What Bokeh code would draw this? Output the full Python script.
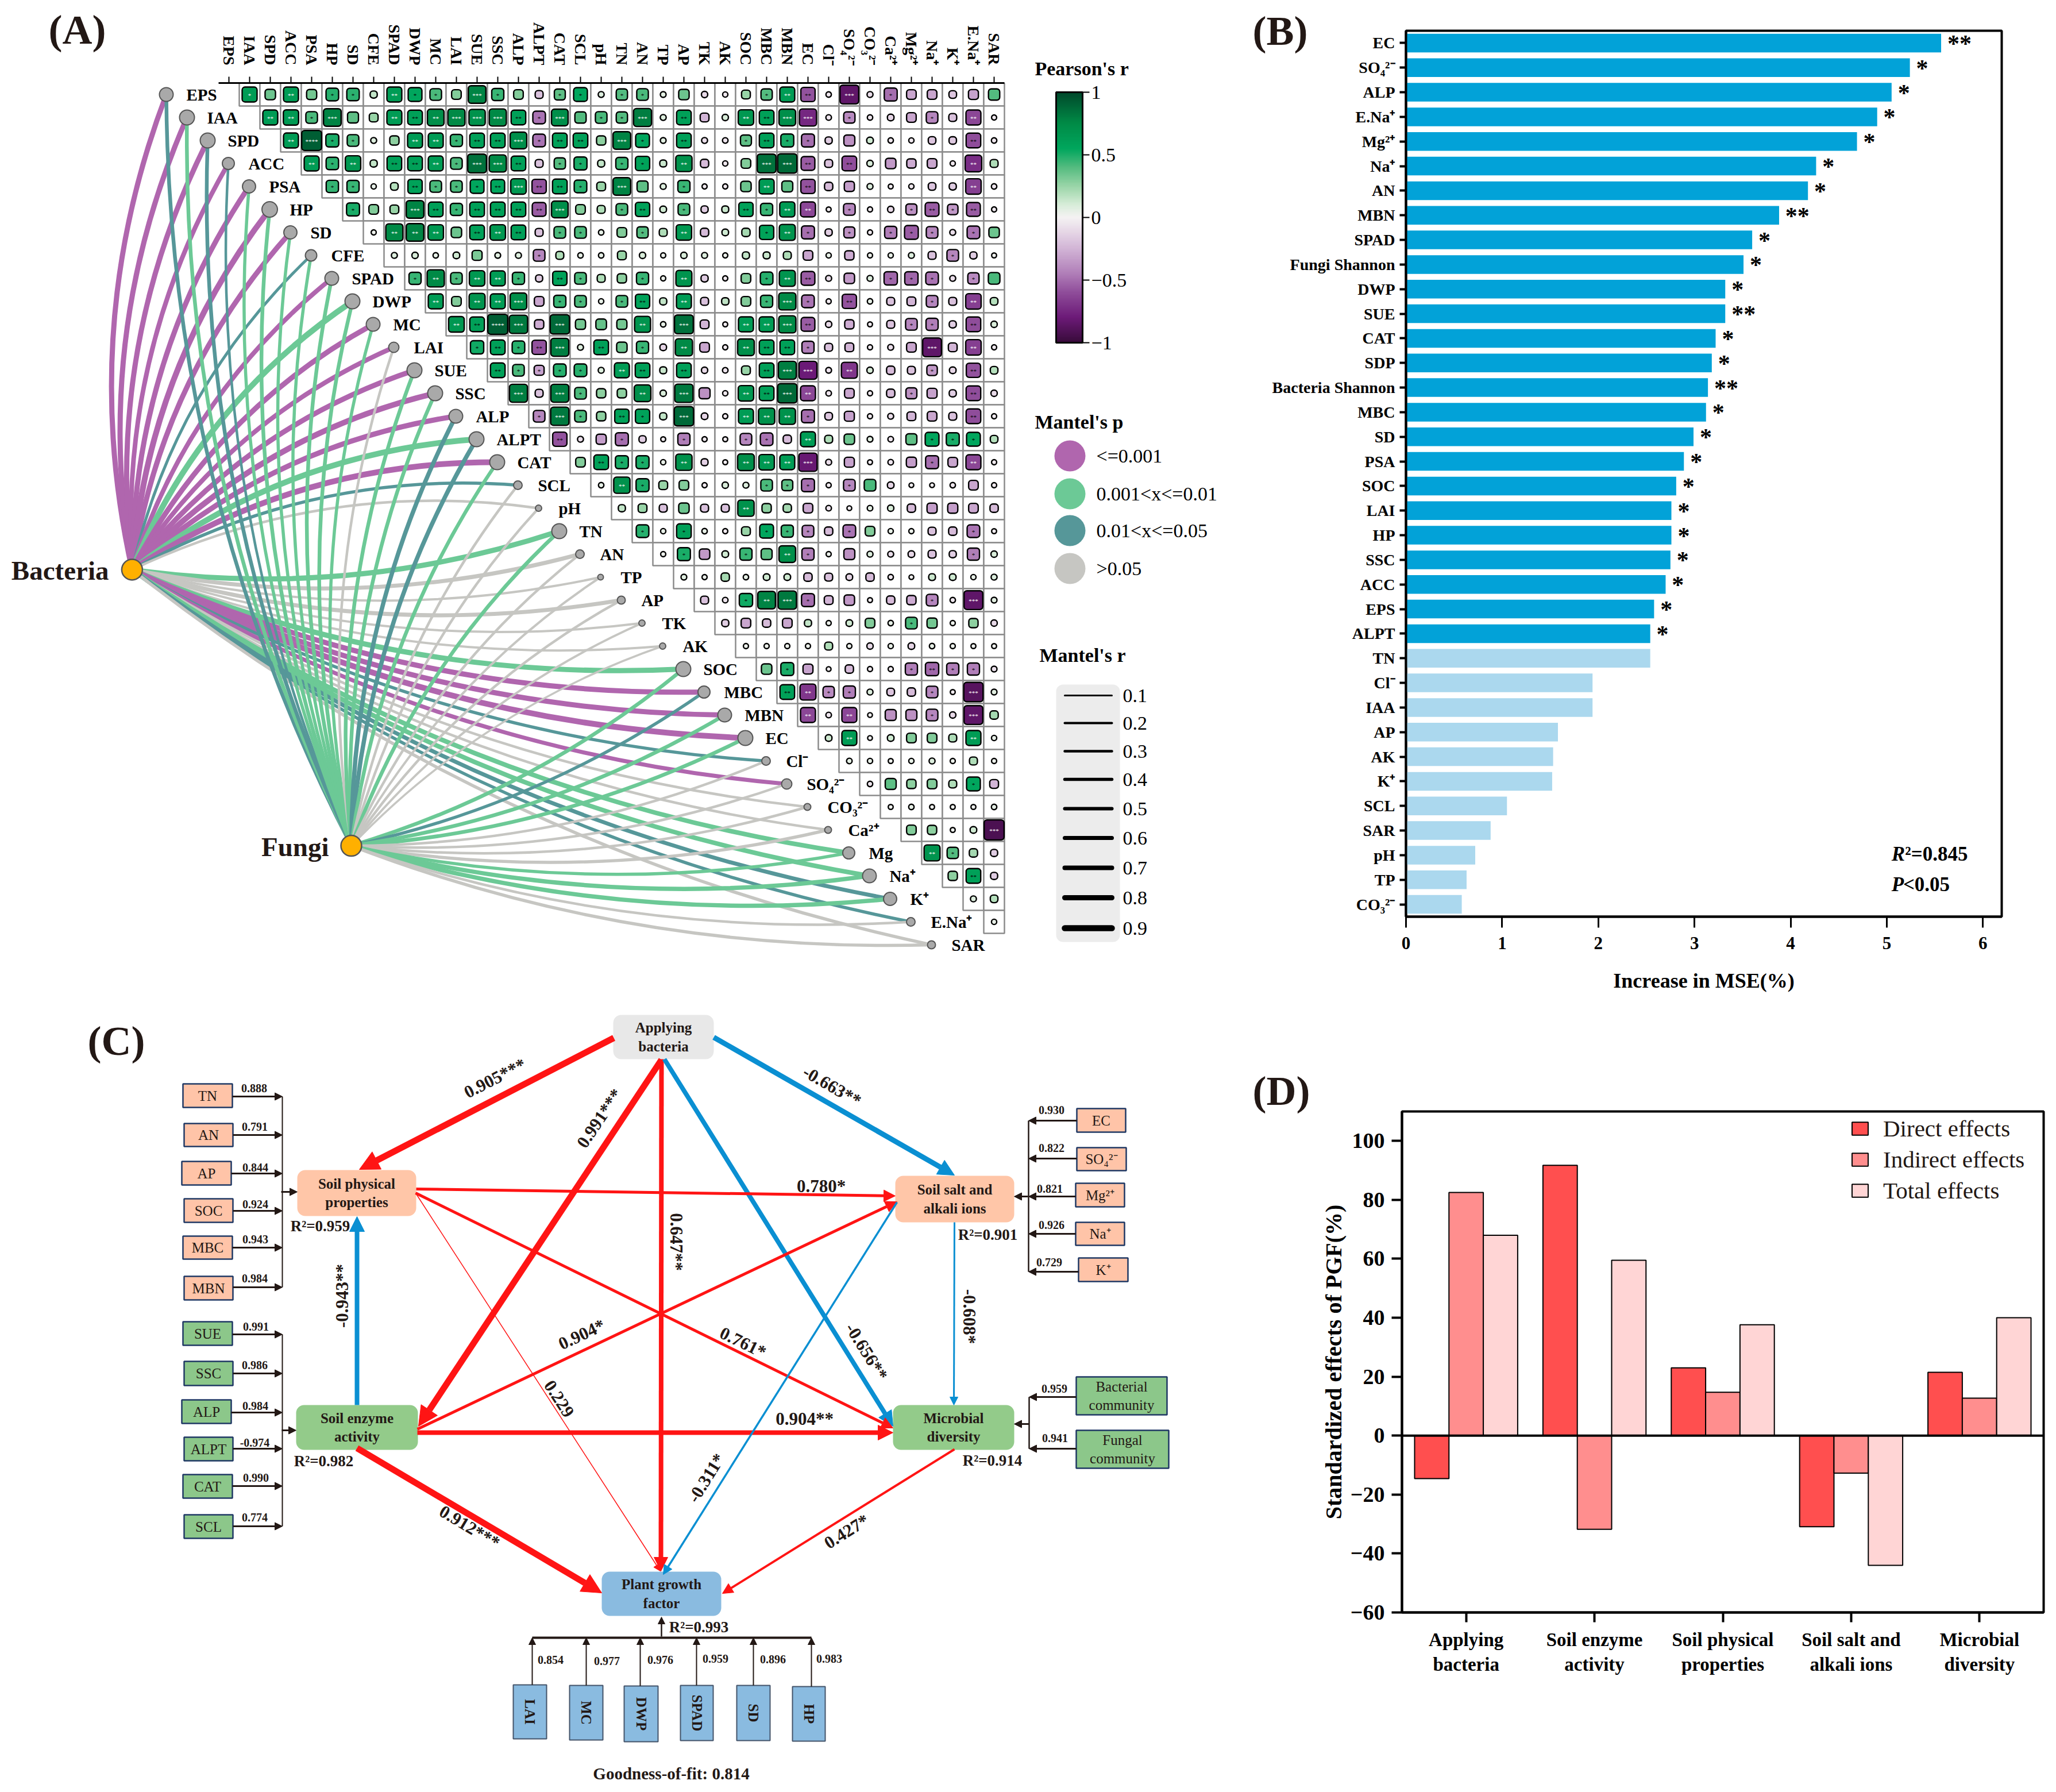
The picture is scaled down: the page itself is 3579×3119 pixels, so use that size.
import math
from bokeh.plotting import figure
from bokeh.layouts import row, column
from bokeh.embed import file_html
from bokeh.resources import INLINE
from bokeh.core.properties import value
from bokeh.models import (Range1d, FactorRange, LinearAxis, FixedTicker, Title, ColorBar,
                          LinearColorMapper, Arrow, NormalHead, Legend, LegendItem, Span, ColumnDataSource)

SERIF = "Liberation Serif"
INK = "#231815"

# ---------------- panel A data ----------------
variables = ["EPS","IAA","SPD","ACC","PSA","HP","SD","CFE","SPAD","DWP","MC","LAI","SUE","SSC","ALP","ALPT","CAT","SCL",
             "pH","TN","AN","TP","AP","TK","AK","SOC","MBC","MBN","EC","Cl⁻","SO₄²⁻","CO₃²⁻","Ca²⁺","Mg²⁺","Na⁺","K⁺","E.Na⁺","SAR"]
row_names = variables[:33] + ["Mg"] + variables[34:]
# Pearson r x100 with significance stars, upper triangle, row by row
pearson_rows = [
"62* 35 62** 33 48* 47* 15 62** 55* 42* 30 78*** 45* 30 -20 38* 55* 8 40* 42* 7 35 -10 -4 25 40* 62** -58** -5 -85*** -8 -50* -30 -30 -18 -32 40",
"62** 64** 42* 78*** 38 25 62** 60** 72** 75*** 70*** 75*** 60** -48* 72*** 40 42* 40* 80*** 8 60** -25 10 65** 60** 72*** -75*** -6 -40* -5 -12 -30 -42* -20 -62** -3",
"62** 92**** 50* 42* 8 28 62** 62** 45* 60** 60** 72*** -48* 60** 60** 28 78*** 55* 7 60** -8 -6 38* 60** 50* -50* -15 -38 12 -5 -4 -18 -17 -60** -5",
"62** 47* 65** 15 60** 60** 62** 42* 85*** 75*** 60** -20 40* 50* 15 45* 58* 14 70** -22 -4 30 85*** 88*** -55** -20 -60** 10 -35 -28 -30 -4 -72** 20",
"46* 45* 4 18 58** 42* 42* 55* 55** 65*** -58** 60** 48* 25 78*** 38 8 45* -3 -3 35 62** 38 -58** -22 -33 8 -2 -4 -18 -15 -65** -5",
"50* 30 25 78*** 60** 45* 60** 60** 60** -55** 72*** 30 20 42* 58** 12 42* -15 14 58** 45* 63** -62** -2 -42* -3 -10 -38* -55** -35* -55** -3",
"3 75** 78** 65** 35 60** 65** 60** -20 42* 42* 5 30 40* 20 65** -22 12 22 58* 68** -50* -15 -38* -3 -45* -55* -42* -8 -48* 35",
"8 10 5 12 32 7 8 -42* 20 5 5 25 10 3 10 8 3 15 14 20 -30 4 -28 3 4 8 -20 -42* -15 2",
"45* 75** 42* 65** 62** 45* -15 58** 42* 20 28 45* 3 68** -15 -3 30 48* 68** -55** -8 -35 8 -52* -52* -48* -8 -40* 42",
"62** 30 68** 62** 72*** -30 45* 42* 4 42* 58** 15 62** -20 16 30 45* 75*** -48* -3 -58** 5 -20 -25 -42* -20 -65** 18",
"66** 60** 92**** 82*** -28 88*** 33 36 33 68** 5 85*** -25 -2 62** 62** 75*** -55** -10 -28 -2 -20 -42* -45* -15 -60** 10",
"52* 60** 48* -58** 80*** 8 60** 35 45* -12 75** -30 -3 72** 60** 60** -45* -20 -25 -3 -8 -30 -85*** -25 -65** -3",
"60** 42* -32* 48* 48* 8 62** 60** 14 60** -10 -6 25 60** 80*** -80*** -7 -68** 10 -22 -20 -35* -12 -58** 18",
"80*** -20 80*** 42* 28 28 72** 10 82*** -38 -4 65** 60** 88*** -62** -6 -30 -3 -22 -38* -32 -15 -60** -10",
"-42* 82*** 42* 28 58** 58* 15 88*** -12 -3 62** 70** 70** -50* -18 -32 -3 -8 -25 -30 -20 -60** -3",
"-58** -8 -33 -50* -15 -2 -45* -3 -2 -42* -48* -22 62** 20 35 7 -6 38 55* 50* 55* 18",
"30 60** 50* 50* 4 70** -14 -2 72** 65** 62** -82*** -8 -32 -2 -6 -33 -50* -30 -62** -3",
"5 70** 50* 25 30 -3 10 8 42* 38* -50* -3 -42* 42 -12 -1 -1 -5 -30 -3",
"15 25 -20 35 -20 -20 70** 28 22 -30 -6 -1 6 10 -22 -33 -33 -30 -22",
"48* 4 60* 5 -3 25 55* 45* -42* -22 -48* 30 4 3 -20 -22 -48* -2",
"3 50* -35 12 45* 38 72** -45* 3 -38 8 -8 -12 -20 -15 -45* 10",
"7 3 22 5 12 12 -22 -20 -12 -22 -5 1 13 12 4 8",
"-20 -6 52* 78** 82*** -50* -25 -35 -2 -22 -28 -42* -5 -85*** 7",
"-15 -30 -22 -30 15 3 12 30 5 42* 33 3 28 -10",
"3 3 3 3 20 3 -10 4 -12 5 3 2 2",
"35 50* -32 -1 -22 -3 -3 -45* -52** -45* -45* -7",
"60** -68** -40* -45* 8 -18 -22 -42* -2 -88*** 7",
"-62** -6 -62** 1 -38 -38 -42* -10 -85*** 22",
"12 62** 1 12 30 30 20 62** 4",
"6 4 2 4 8 3 20 3",
"-5 38 28 30 20 55* -25",
"2 5 2 2 2 5",
"30 28 2 12 -92***",
"68** 40* 22 -15",
"28 60** -15",
"8 18",
"4",
]
# Mantel class: 0 p<=0.001, 1 0.001<x<=0.01, 2 0.01<x<=0.05, 3 >0.05
bacteria_class = [0,0,0,0,0,0,0,2,0,1,0,0,0,0,0,1,0,2,3,1,3,3,3,3,3,1,0,0,0,2,0,3,3,1,1,2,2,3]
bacteria_width = [9,9,9,8,9,10,9,5,8,10,9,8,9,10,9,10,10,5.5,4.5,9,7,4,7,4,4,9,9,9,10,5.5,7,4.5,4.5,8,8,7,5.5,5.5]
fungi_class = [2,1,2,2,1,1,1,1,1,1,1,3,1,1,2,2,1,3,3,1,3,3,3,3,3,1,2,1,1,3,3,3,3,1,1,1,3,3]
fungi_width = [6.5,6.5,6.5,4.5,5.5,6.5,5.5,5.5,6.5,6.5,5.5,4.5,6.5,6.5,7.5,7.5,6.5,4.5,4.5,6.5,4.5,4,4.5,4,3.5,6.5,5.5,6.5,6.5,4.5,4.5,4.5,5.5,5.5,7.5,7.5,4.5,5.5]
node_size = [24,26,26,21,23,27,23,20,24,26,24,18,26,26,24,26,26,15,11,26,15,10,14,11,11,26,21,24,26,15,18,12,12,21,24,23,15,14]
mantel_p_labels = ["<=0.001","0.001<x<=0.01","0.01<x<=0.05",">0.05"]
mantel_p_colors = ["#B066AE","#6CC996","#569799","#C6C6C2"]
mantel_r_labels = ["0.1","0.2","0.3","0.4","0.5","0.6","0.7","0.8","0.9"]
mantel_r_widths = [3,4,4.5,5.5,6,7,8,9,10.5]

# ---------------- panel B data ----------------
mse_names = ["EC","SO₄²⁻","ALP","E.Na⁺","Mg²⁺","Na⁺","AN","MBN","SPAD","Fungi Shannon","DWP","SUE","CAT","SDP","Bacteria Shannon",
             "MBC","SD","PSA","SOC","LAI","HP","SSC","ACC","EPS","ALPT","TN","Cl⁻","IAA","AP","AK","K⁺","SCL","SAR","pH","TP","CO₃²⁻"]
mse_values = [5.565,5.24,5.05,4.90,4.69,4.265,4.18,3.88,3.60,3.51,3.32,3.32,3.22,3.18,3.14,3.12,2.99,2.89,2.81,2.76,2.76,2.75,2.70,2.58,2.54,
              2.54,1.94,1.94,1.58,1.53,1.52,1.05,0.88,0.72,0.63,0.58]
mse_stars = ["**","*","*","*","*","*","*","**","*","*","*","**","*","*","**","*","*","*","*","*","*","*","*","*","*",
             "","","","","","","","","","",""]

# ---------------- panel D data ----------------
effect_groups = ["Applying\nbacteria","Soil enzyme\nactivity","Soil physical\nproperties","Soil salt and\nalkali ions","Microbial\ndiversity"]
direct_effects = [-14.6,91.7,23.0,-30.9,21.5]
indirect_effects = [82.5,-31.8,14.7,-12.7,12.7]
total_effects = [68.0,59.5,37.6,-44.0,40.0]

# ---------------- panel C data ----------------
sem_nodes = [("Applying\nbacteria",1067,1242,1766,1843,"#E8E8E8"),
             ("Soil physical\nproperties",517,724,2036,2116,"#FFC6A8"),
             ("Soil enzyme\nactivity",515,727,2445,2523,"#93CB8A"),
             ("Soil salt and\nalkali ions",1558,1765,2046,2127,"#FFC6A8"),
             ("Microbial\ndiversity",1554,1765,2445,2523,"#93CB8A"),
             ("Plant growth\nfactor",1047,1255,2735,2812,"#8ABBE0")]
RED, BLUE = "#FF1414", "#0A8FD2"
sem_paths = [(1068,1806,625,2035,RED,11,34),(1151,1844,728,2482,RED,11,34),(1151,1843,1150,2734,RED,8,24),
             (1242,1805,1661,2045,BLUE,9,28),(1156,1843,1554,2482,BLUE,8,26),(724,2069,1558,2081,RED,5,20),
             (723,2076,1554,2485,RED,5,20),(723,2076,1149,2734,RED,1.5,12),(726,2487,1561,2091,RED,5,20),
             (726,2493,1554,2493,RED,8,26),(621,2445,621,2117,BLUE,8,26),(621,2520,1047,2772,RED,11,34),
             (1661,2127,1660,2445,BLUE,3,14),(1561,2092,1154,2740,BLUE,3.5,16),(1661,2522,1257,2773,RED,4,18)]
sem_path_labels = [("0.905***",861,1876,27),("0.991***",1043,1946,56),("0.647**",1177,2161,-90),("-0.663**",1448,1890,-30),
                   ("0.780*",1429,2064,0),("0.904*",1012,2322,25),("0.761*",1293,2336,-26),("-0.656**",1508,2352,-58),
                   ("0.229",973,2434,-57),("-0.608*",1687,2291,-90),("-0.943**",595,2255,90),("0.904**",1400,2469,0),
                   ("0.912***",817,2657,-31),("-0.311*",1229,2572,58),("0.427*",1473,2665,32)]
sem_r2 = [("R²=0.959",557,2133),("R²=0.982",563,2542),("R²=0.901",1719,2148),("R²=0.914",1727,2541),("R²=0.993",1216,2831)]
left_boxes = [("TN",318,404,1886,1927,"0.888",442,1893,1908),("AN",320,405,1955,1995,"0.791",443,1960,1975),
              ("AP",316,402,2021,2062,"0.844",444,2031,2042),("SOC",320,405,2086,2127,"0.924",444,2095,2107),
              ("MBC",318,404,2151,2191,"0.943",444,2156,2171),("MBN",320,405,2221,2262,"0.984",443,2224,2240)]
left_boxes2 = [("SUE",318,404,2300,2341,"0.991",445,2308,2322),("SSC",320,405,2369,2411,"0.986",443,2375,2390),
               ("ALP",316,402,2436,2477,"0.984",444,2446,2458),("ALPT",320,405,2501,2542,"-0.974",443,2510,2521),
               ("CAT",318,404,2566,2607,"0.990",445,2571,2586),("SCL",320,405,2636,2677,"0.774",443,2640,2656)]
right_boxes = [("EC",1874,1959,1929,1970,"0.930",1830,1931,1950),("SO₄²⁻",1874,1960,1997,2037,"0.822",1830,1997,2016),
               ("Mg²⁺",1872,1957,2059,2100,"0.821",1827,2068,2082),("Na⁺",1872,1957,2127,2167,"0.926",1830,2131,2147),
               ("K⁺",1877,1963,2189,2230,"0.729",1826,2196,2213)]
right_boxes2 = [("Bacterial\ncommunity",1873,2031,2396,2462,"0.959",1835,2416,2431),
                ("Fungal\ncommunity",1873,2034,2489,2555,"0.941",1836,2502,2521)]
bottom_boxes = [("LAI",893,951,2932,3026,"0.854",958,2888,926),("MC",991,1049,2933,3028,"0.977",1056,2890,1020),
                ("DWP",1086,1145,2934,3031,"0.976",1149,2888,1114),("SPAD",1184,1241,2933,3029,"0.959",1245,2886,1212),
                ("SD",1282,1340,2933,3029,"0.896",1345,2887,1311),("HP",1379,1436,2935,3030,"0.983",1443,2886,1412)]

# ---------------- palette ----------------
anchors = [(-1,"#380B3A"),(-.8,"#6C1A78"),(-.6,"#8F4D9A"),(-.45,"#B07EB8"),(-.25,"#D2B4D6"),(-.1,"#E8DAE8"),(0,"#F5F2F3"),
           (.1,"#D8EDD9"),(.25,"#9AD5A8"),(.4,"#55BC80"),(.55,"#00A65D"),(.75,"#008C47"),(1,"#00492B")]
def _rgb(h): return tuple(int(h[i:i+2],16) for i in (1,3,5))
palette = []
for k in range(256):
    t = -1 + 2*k/255
    for (a,ca),(b,cb) in zip(anchors, anchors[1:]):
        if a <= t <= b:
            f = (t-a)/(b-a); A,B = _rgb(ca),_rgb(cb)
            palette.append("#%02X%02X%02X" % tuple(round(A[j]+(B[j]-A[j])*f) for j in range(3)))
            break
mapper = LinearColorMapper(palette=palette, low=-1, high=1)

def top_title(p, text, offset, standoff, size="72px", color=INK):
    p.add_layout(Title(text=text, align="left", offset=offset, standoff=standoff, text_font=SERIF, text_font_style="bold",
                       text_font_size=size, text_color=color), "above")

# ================ panel A ================
UX, UY = 36.0, 40.0
X = lambda px: (px-380)/UX
Y = lambda py: (py-144)/UY
A_W, A_H = 2150, 1740
pA = figure(width=A_W, height=A_H, x_range=Range1d(X(0),X(2150)), y_range=Range1d(Y(1740),Y(144)), output_backend="svg",
            toolbar_location=None, x_axis_location=None, y_axis_location=None, min_border_left=0, min_border_right=0,
            min_border_top=144, min_border_bottom=0, outline_line_color=None, frame_align=False)
pA.grid.visible = False
top = LinearAxis(ticker=FixedTicker(ticks=[i+.5 for i in range(38)]),
                 major_label_overrides={i+.5: v for i,v in enumerate(variables)}, bounds=(0,38))
top.major_label_orientation = -math.pi/2
top.major_label_text_font = SERIF; top.major_label_text_font_style = "bold"; top.major_label_text_font_size = "28px"
top.major_label_text_color = "black"; top.major_tick_in = 0; top.major_tick_out = 11; top.minor_tick_out = 0; top.minor_tick_in = 0
top.axis_line_width = 3; top.major_tick_line_width = 2; top.major_label_standoff = 20
pA.add_layout(top, "above")
top_title(pA,"(A)",84,-112)
top_title(pA,"Pearson's r",1801,-205,size="34px",color="black")

cx, cy, vals, stars = [], [], [], []
for i, tokens in enumerate(pearson_rows):
    toks = tokens.split()
    if len(toks) != 37-i:
        raise ValueError(f"row {i} has {len(toks)} expected {37-i}")
    for j, tok in enumerate(toks):
        cx.append(i+1+j+.5); cy.append(i+.5)
        vals.append(int(tok.rstrip("*"))/100); stars.append("*"*tok.count("*"))
pA.rect(cx, cy, width=1, height=1, fill_color="white", line_color="#8C8C8C", line_width=2.5)
wpx = [8+29*abs(v) for v in vals]
src = ColumnDataSource(dict(left=[x-w/UX/2 for x,w in zip(cx,wpx)], right=[x+w/UX/2 for x,w in zip(cx,wpx)],
                            top=[y-w/UY/2 for y,w in zip(cy,wpx)], bottom=[y+w/UY/2 for y,w in zip(cy,wpx)], r=vals))
pA.quad(left="left", right="right", top="top", bottom="bottom", source=src, border_radius=5,
        fill_color={"field":"r","transform":mapper}, line_color="black", line_width=2.4)
pA.text([x for x,s in zip(cx,stars) if s],[y for y,s in zip(cy,stars) if s],text=[s for s in stars if s],
        text_font=value(SERIF), text_font_size="11px", text_align="center", text_baseline="middle", y_offset=1,
        text_color=["white" if abs(v)>=.62 else "black" for v,s in zip(vals,stars) if s])

# nodes along the diagonal
node_x = [X(289+36*i) for i in range(38)]
node_y = [i+.5 for i in range(38)]
bac = (229.4,991.0); fun = (611.0,1471.6)
def links(src_pt, classes, widths, split, c_up, c_low):
    for i,(c,w) in enumerate(zip(classes,widths)):
        x1,y1 = 289+36*i, 144+40*(i+.5)
        dx,dy = x1-src_pt[0], y1-src_pt[1]
        sign = 1 if i < split else -1
        k = 2*(c_up if i < split else c_low)*sign
        mx,my = (src_pt[0]+x1)/2+dy*k, (src_pt[1]+y1)/2-dx*k
        pA.quadratic(x0=[X(src_pt[0])],y0=[Y(src_pt[1])],x1=[X(x1)],y1=[Y(y1)],cx=[X(mx)],cy=[Y(my)],
                     line_color=mantel_p_colors[c],line_width=w)
links(bac, bacteria_class, bacteria_width, 19, .075, .058)
links(fun, fungi_class, fungi_width, 25, .06, .05)
pA.scatter(node_x,node_y,size=node_size,marker="circle",fill_color="#A9A9A9",line_color="#555555",line_width=2)
pA.text([x+.97 for x in node_x],node_y,text=row_names,text_font=value(SERIF),text_font_style="bold",text_font_size="29px",
        text_align="left",text_baseline="middle",text_color="black")
pA.scatter([X(bac[0]),X(fun[0])],[Y(bac[1]),Y(fun[1])],size=36,marker="circle",fill_color="#FFB000",line_color="#555555",line_width=2.5)
pA.text([X(189),X(572)],[Y(992),Y(1473)],text=["Bacteria","Fungi"],text_font=value(SERIF),text_font_style="bold",text_font_size="47px",
        text_align="right",text_baseline="middle",text_color=INK)
cb = ColorBar(color_mapper=mapper,width=46,height=436,location=(1838,1144),padding=0,ticker=FixedTicker(ticks=[-1,-.5,0,.5,1]),
              major_label_text_font=SERIF,major_label_text_font_size="34px",major_label_text_color="black",major_tick_in=0,major_tick_out=12,
              major_tick_line_color="black",major_tick_line_width=2,bar_line_color="black",bar_line_width=3,label_standoff=3,
              background_fill_alpha=0,border_line_color=None,minor_tick_line_color=None)
pA.add_layout(cb,"center")
pA.text([X(1801),X(1809)],[Y(734),Y(1140)],text=["Mantel's p","Mantel's r"],text_font=value(SERIF),text_font_style="bold",
        text_font_size="34px",text_baseline="middle",text_color="black")
leg_y = [793,859,923,989]
pA.scatter([X(1862)]*4,[Y(v) for v in leg_y],size=54,marker="circle",fill_color=mantel_p_colors,line_color=None)
pA.text([X(1908)]*4,[Y(v) for v in leg_y],text=mantel_p_labels,text_font=value(SERIF),text_font_size="34px",text_baseline="middle",text_color="black")
pA.quad(left=[X(1838)],right=[X(1949)],top=[Y(1191)],bottom=[Y(1639)],border_radius=12,fill_color="#ECECEC",line_color=None)
ry = [1210,1258,1307,1356,1407,1458,1510,1562,1615]
pA.segment([X(1853)]*9,[Y(v) for v in ry],[X(1935)]*9,[Y(v) for v in ry],line_color="black",line_width=mantel_r_widths,line_cap="round")
pA.text([X(1954)]*9,[Y(v) for v in ry],text=mantel_r_labels,text_font=value(SERIF),text_font_size="34px",text_baseline="middle",text_color="black")

# ================ panel B ================
B_W = 1425
pB = figure(width=B_W,height=A_H,x_range=Range1d(0,6.195),y_range=FactorRange(factors=mse_names[::-1]),output_backend="svg",
            toolbar_location=None,min_border_left=297,min_border_right=91,min_border_top=53,min_border_bottom=145,
            outline_line_color="black",outline_line_width=4,frame_align=False)
pB.grid.visible = False
pB.hbar(y=mse_names,right=mse_values,left=0,height=.76,line_color=None,
        fill_color=["#02A2D8" if s else "#ABD8EE" for s in mse_stars])
pB.text([v+.065 for v,s in zip(mse_values,mse_stars) if s],[n for n,s in zip(mse_names,mse_stars) if s],text=[s for s in mse_stars if s],
        text_font=value(SERIF),text_font_style="bold",text_font_size="42px",text_baseline="alphabetic",y_offset=1,text_color="black")
xa = pB.xaxis[0]
xa.ticker = FixedTicker(ticks=[0,1,2,3,4,5,6]); xa.axis_label = "Increase in MSE(%)"
xa.axis_label_text_font = SERIF; xa.axis_label_text_font_style = "bold"; xa.axis_label_text_font_size = "36px"; xa.axis_label_text_color = "black"
xa.axis_label_standoff = 32
xa.major_label_text_font = SERIF; xa.major_label_text_font_style = "bold"; xa.major_label_text_font_size = "31px"; xa.major_label_text_color = "black"
xa.major_tick_in = 0; xa.major_tick_out = 19; xa.major_tick_line_width = 3; xa.minor_tick_line_color = None; xa.axis_line_width = 4; xa.major_label_standoff = 16
ya = pB.yaxis[0]
ya.major_label_text_font = SERIF; ya.major_label_text_font_style = "bold"; ya.major_label_text_font_size = "28px"; ya.major_label_text_color = "black"
ya.major_tick_in = 0; ya.major_tick_out = 11; ya.major_tick_line_width = 4; ya.axis_line_width = 4; ya.major_label_standoff = 8
pB.text([5.05],["pH"],text=["R"],text_font=value(SERIF),text_font_style="bold italic",text_font_size="35px",text_baseline="middle",text_color="black",y_offset=-2)
pB.text([5.19],["pH"],text=["²=0.845"],text_font=value(SERIF),text_font_style="bold",text_font_size="35px",text_baseline="middle",text_color="black",y_offset=-2)
pB.text([5.05],["TP"],text=["P"],text_font=value(SERIF),text_font_style="bold italic",text_font_size="35px",text_baseline="middle",text_color="black",y_offset=8)
pB.text([5.17],["TP"],text=["<0.05"],text_font=value(SERIF),text_font_style="bold",text_font_size="35px",text_baseline="middle",text_color="black",y_offset=8)
top_title(pB,"(B)",-267,-80)

# ================ panel C ================
C_H = 1375
pC = figure(width=A_W,height=C_H,x_range=Range1d(0,2150),y_range=Range1d(3115,1740),output_backend="svg",toolbar_location=None,
            x_axis_location=None,y_axis_location=None,min_border=0,outline_line_color=None,frame_align=False)
pC.grid.visible = False
def arrow(x0,y0,x1,y1,color,w,size):
    pC.add_layout(Arrow(end=NormalHead(size=size,fill_color=color,line_color=color,line_width=1),x_start=x0,y_start=y0,x_end=x1,y_end=y1,
                        line_color=color,line_width=w))
def boxes(items,fill,line="#1F3864",font="25px"):
    pC.quad(left=[b[1] for b in items],right=[b[2] for b in items],top=[b[3] for b in items],bottom=[b[4] for b in items],
            fill_color=fill,line_color=line,line_width=2.5)
    pC.text([(b[1]+b[2])/2 for b in items],[(b[3]+b[4])/2 for b in items],text=[b[0] for b in items],text_font=value(SERIF),text_font_size=font,
            text_align="center",text_baseline="middle",text_color=INK,text_line_height=1.2)
    pC.text([b[6] for b in items],[b[7] for b in items],text=[b[5] for b in items],text_font=value(SERIF),text_font_style="bold",text_font_size="20px",
            text_align="center",text_baseline="middle",text_color=INK)
for group,fill in ((left_boxes,"#FFC4A8"),(left_boxes2,"#8CC78A")):
    boxes(group,fill)
    for b in group:
        arrow(b[2],b[8],491,b[8],INK,3,13)
    pC.segment([491],[group[0][8]],[491],[group[-1][8]],line_color=INK,line_width=2)
arrow(489,2074,517,2074,INK,3,13); arrow(490,2489,515,2489,INK,3,13)
for group,fill,bx in ((right_boxes,"#FFC4A8",1790),(right_boxes2,"#8CC78A",1791)):
    boxes(group,fill)
    for b in group:
        arrow(b[1],b[8],bx,b[8],INK,3,13)
    pC.segment([bx],[group[0][8]],[bx],[group[-1][8]],line_color=INK,line_width=2.5)
arrow(1789,2082,1765,2082,INK,3,13); arrow(1791,2478,1765,2478,INK,3,13)
pC.quad(left=[b[1] for b in bottom_boxes],right=[b[2] for b in bottom_boxes],top=[b[3] for b in bottom_boxes],bottom=[b[4] for b in bottom_boxes],
        fill_color="#8ABBE0",line_color="#44546A",line_width=2)
pC.text([(b[1]+b[2])/2 for b in bottom_boxes],[(b[3]+b[4])/2 for b in bottom_boxes],text=[b[0] for b in bottom_boxes],angle=-90,angle_units="deg",
        text_font=value(SERIF),text_font_style="bold",text_font_size="25px",text_align="center",text_baseline="middle",text_color=INK)
pC.text([b[6] for b in bottom_boxes],[b[7] for b in bottom_boxes],text=[b[5] for b in bottom_boxes],text_font=value(SERIF),text_font_style="bold",
        text_font_size="20px",text_align="center",text_baseline="middle",text_color=INK)
for b in bottom_boxes:
    arrow(b[8],b[3],b[8],2850,INK,2,12)
pC.segment([926],[2850],[1412],[2850],line_color=INK,line_width=4)
arrow(1151,2848,1151,2814,INK,2.5,12)
for x0,y0,x1,y1,c,w,s in sem_paths:
    arrow(x0,y0,x1,y1,c,w,s)
pC.quad(left=[n[1] for n in sem_nodes],right=[n[2] for n in sem_nodes],top=[n[3] for n in sem_nodes],bottom=[n[4] for n in sem_nodes],
        fill_color=[n[5] for n in sem_nodes],line_color=None,border_radius=14)
pC.text([(n[1]+n[2])/2 for n in sem_nodes],[(n[3]+n[4])/2 for n in sem_nodes],text=[n[0] for n in sem_nodes],text_font=value(SERIF),text_font_style="bold",
        text_font_size="25px",text_align="center",text_baseline="middle",text_color=INK,text_line_height=1.2)
pC.text([l[1] for l in sem_path_labels],[l[2] for l in sem_path_labels],text=[l[0] for l in sem_path_labels],angle=[l[3] for l in sem_path_labels],angle_units="deg",
        text_font=value(SERIF),text_font_style="bold",text_font_size="31px",text_align="center",text_baseline="middle",text_color=INK)
pC.text([r[1] for r in sem_r2],[r[2] for r in sem_r2],text=[r[0] for r in sem_r2],text_font=value(SERIF),text_font_style="bold",text_font_size="27px",
        text_align="center",text_baseline="middle",text_color=INK)
pC.text([1168],[3086],text=["Goodness-of-fit: 0.814"],text_font=value(SERIF),text_font_style="bold",text_font_size="29px",text_align="center",text_baseline="middle",text_color=INK)
pC.text([202],[1811],text=["(C)"],text_font=value(SERIF),text_font_style="bold",text_font_size="72px",text_align="center",text_baseline="middle",text_color=INK)

# ================ panel D ================
pD = figure(width=B_W,height=C_H,x_range=Range1d(.5,5.5),y_range=Range1d(-60,110),output_backend="svg",toolbar_location=None,
            min_border_left=290,min_border_right=18,min_border_top=194,min_border_bottom=309,outline_line_color="black",outline_line_width=4,frame_align=False)
pD.grid.visible = False
gx = [1,2,3,4,5]
series = [("Direct effects",direct_effects,"#FF4F4F",-.2677),("Indirect effects",indirect_effects,"#FF8E8E",0),("Total effects",total_effects,"#FFD5D5",.2677)]
items = []
for name,vals_,col,off in series:
    r = pD.vbar(x=[g+off for g in gx],top=vals_,bottom=0,width=.2677,fill_color=col,line_color="black",line_width=2)
    items.append(LegendItem(label=name,renderers=[r]))
pD.add_layout(Span(location=0,dimension="width",line_color="black",line_width=4))
leg = Legend(items=items,location=(780,710),glyph_width=35,glyph_height=28,spacing=6,label_standoff=23,padding=0,margin=0,border_line_color=None,
             background_fill_alpha=0,label_text_font=SERIF,label_text_font_size="41px",label_text_color=INK)
pD.add_layout(leg,"center")
xd = pD.xaxis[0]
xd.ticker = FixedTicker(ticks=gx); xd.major_label_overrides = {g:t for g,t in zip(gx,effect_groups)}
xd.major_label_text_font = SERIF; xd.major_label_text_font_style = "bold"; xd.major_label_text_font_size = "33px"; xd.major_label_text_color = "black"
xd.major_tick_in = 0; xd.major_tick_out = 17; xd.major_tick_line_width = 4; xd.minor_tick_line_color = None; xd.axis_line_width = 4; xd.major_label_standoff = 12
yd = pD.yaxis[0]
yd.ticker = FixedTicker(ticks=[-60,-40,-20,0,20,40,60,80,100]); yd.axis_label = "Standardized effects of PGF(%)"
yd.axis_label_text_font = SERIF; yd.axis_label_text_font_style = "bold"; yd.axis_label_text_font_size = "40px"; yd.axis_label_text_color = "black"
yd.axis_label_standoff = 4
yd.major_label_text_font = SERIF; yd.major_label_text_font_style = "bold"; yd.major_label_text_font_size = "38px"; yd.major_label_text_color = "black"
yd.major_tick_in = 0; yd.major_tick_out = 18; yd.major_tick_line_width = 4; yd.minor_tick_line_color = None; yd.axis_line_width = 4; yd.major_label_standoff = 12
top_title(pD,"(D)",-260,-8)

page = column(row(pA,pB,spacing=0),row(pC,pD,spacing=0),spacing=0)
open("out.html","w").write(file_html(page,INLINE))
